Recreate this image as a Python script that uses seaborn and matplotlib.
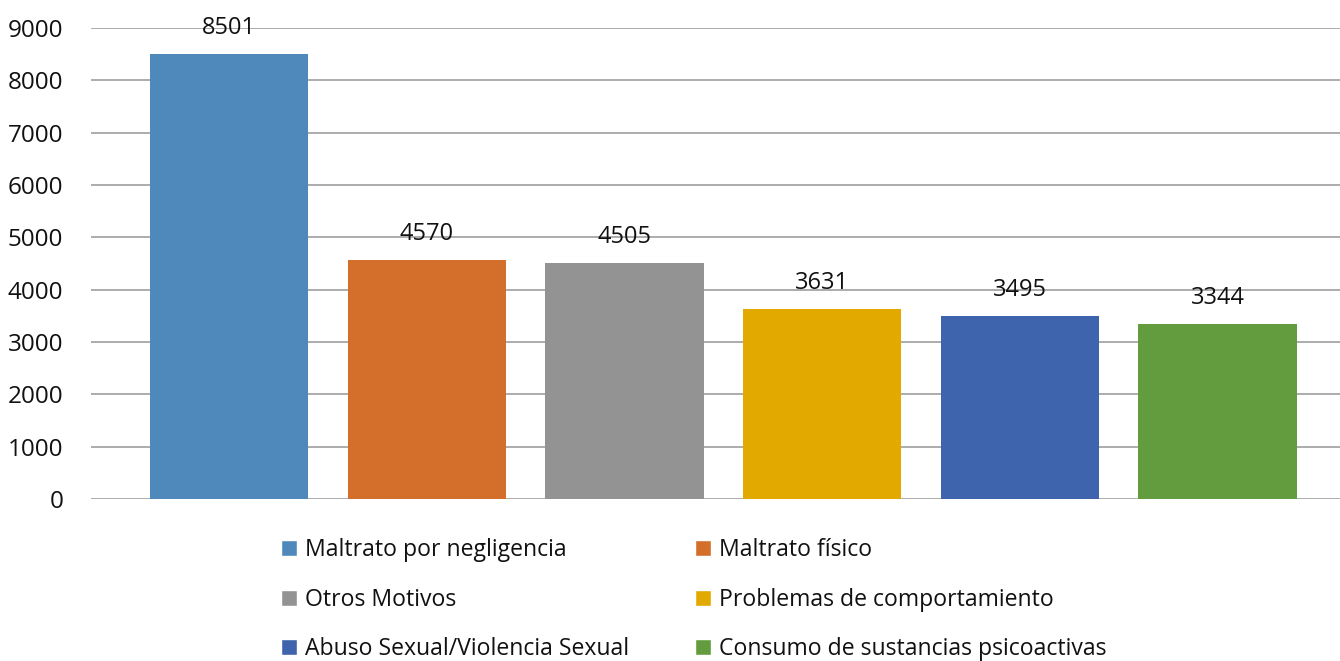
import pandas as pd
import seaborn as sns
import matplotlib.pyplot as plt
from matplotlib.patches import Patch

# Data
categories = [
    "Maltrato por negligencia",
    "Maltrato físico",
    "Otros Motivos",
    "Problemas de comportamiento",
    "Abuso Sexual/Violencia Sexual",
    "Consumo de sustancias psicoactivas",
]
values = [8501, 4570, 4505, 3631, 3495, 3344]
colors = ["#4F89BC", "#D36F2B", "#939393", "#E2AA00", "#3E64AD", "#639C3F"]
y_ticks = [0, 1000, 2000, 3000, 4000, 5000, 6000, 7000, 8000, 9000]

df = pd.DataFrame({"motivo": categories, "casos": values})

sns.set_style("white")
plt.rcParams["font.family"] = ["Open Sans", "DejaVu Sans"]

fig = plt.figure(figsize=(13.4, 6.61), dpi=100)
ax = fig.add_axes([0.068, 0.245, 0.932, 0.7126])

sns.barplot(data=df, x="motivo", y="casos", hue="motivo", palette=colors,
            dodge=False, legend=False, width=0.8, saturation=1,
            linewidth=0, ax=ax)

# Value labels above bars
for container in ax.containers:
    ax.bar_label(container, padding=10, fontsize=17, color="#111111")

# Axis styling
ax.set_ylim(0, 9000)
ax.set_xlim(-0.698, 5.62)
ax.set_yticks(y_ticks)
ax.set_yticklabels([str(t) for t in y_ticks], fontsize=17.5, color="#111111")
ax.set_xticks([])
ax.set_xlabel("")
ax.set_ylabel("")
ax.tick_params(axis="y", length=0, pad=20)
ax.yaxis.grid(True, color="#A6A6A6", linewidth=1.3)
ax.set_axisbelow(True)
for s in ax.spines.values():
    s.set_visible(False)

# Legend below, two columns, row-major order
order = [0, 2, 4, 1, 3, 5]
handles = [Patch(facecolor=colors[i], label=categories[i]) for i in order]
fig.legend(handles=handles, ncol=2, loc="upper left",
           bbox_to_anchor=(0.201, 0.203), frameon=False, fontsize=16.6,
           handlelength=0.7, handleheight=0.7, handletextpad=0.35,
           columnspacing=2.85, labelspacing=1.1, borderpad=0,
           labelcolor="#111111")

plt.savefig("out.png", dpi=100)
